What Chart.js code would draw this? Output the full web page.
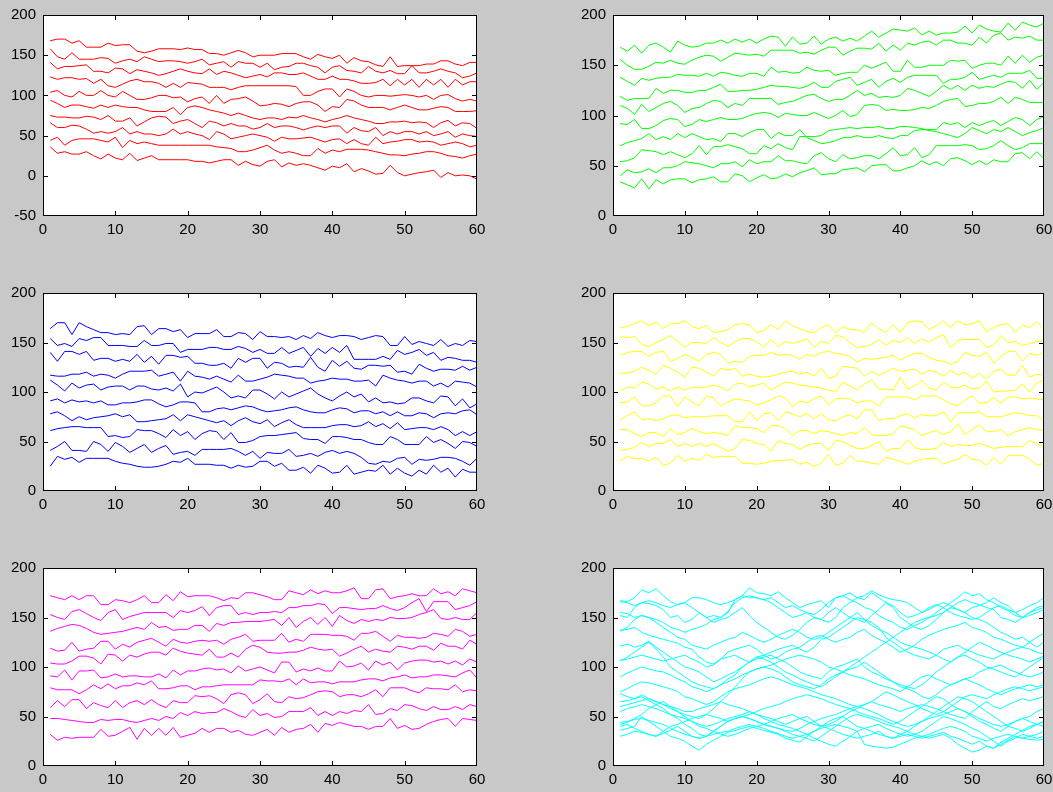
<!DOCTYPE html>
<html>
<head>
<meta charset="utf-8">
<script src="https://cdn.jsdelivr.net/npm/chart.js@4.4.1/dist/chart.umd.min.js"></script>
<style>
  html, body { margin: 0; padding: 0; background: #c8c8c8; }
  body { width: 1053px; height: 792px; position: relative; overflow: hidden; }
  canvas { position: absolute; }
</style>
</head>
<body>
<canvas id="p1"></canvas>
<canvas id="p2"></canvas>
<canvas id="p3"></canvas>
<canvas id="p4"></canvas>
<canvas id="p5"></canvas>
<canvas id="p6"></canvas>
<script>
// x positions (samples 1..60) and tick labels
const xValues = [1,2,3,4,5,6,7,8,9,10,11,12,13,14,15,16,17,18,19,20,21,22,23,24,25,26,27,28,29,30,
  31,32,33,34,35,36,37,38,39,40,41,42,43,44,45,46,47,48,49,50,51,52,53,54,55,56,57,58,59,60];
const xTicks = [0, 10, 20, 30, 40, 50, 60];
const yTicksRed = [-50, 0, 50, 100, 150, 200];
const yTicks = [0, 50, 100, 150, 200];

// panel 1 (red)
const redLines = [
  [168,170,170,165,168,160,160,160,165,162,163,163,155,153,155,158,158,158,157,159,157,157,152,152,150,153,156,153,148,150,150,150,152,152,152,148,145,151,148,146,150,140,147,143,142,138,136,148,136,137,137,137,139,139,143,143,139,137,141,141],
  [158,148,145,153,145,145,145,147,146,140,143,145,142,148,145,142,143,143,142,140,142,145,138,140,142,135,142,140,140,135,140,132,135,136,140,140,137,135,128,135,137,131,130,128,136,130,128,131,127,127,137,128,128,130,133,130,128,122,124,128],
  [141,133,136,136,137,138,130,130,128,134,133,127,132,130,128,125,127,130,133,130,128,127,133,126,130,128,125,122,124,126,123,128,128,126,126,128,124,120,120,124,120,120,118,115,115,116,120,112,120,113,120,110,120,113,120,110,120,113,117,117],
  [123,120,122,122,120,121,115,120,112,110,114,118,120,117,117,115,110,115,110,116,115,114,110,110,110,107,110,112,112,112,112,112,112,112,111,100,100,105,108,108,98,108,105,100,98,100,100,99,100,101,100,98,100,95,100,101,96,93,95,93],
  [104,106,100,98,105,100,100,106,100,98,105,100,95,95,97,100,100,97,98,92,96,98,90,100,90,95,96,98,93,87,88,90,89,86,90,92,92,88,80,86,85,95,93,88,85,85,85,82,85,88,85,82,82,84,86,85,80,80,80,81],
  [94,90,85,88,88,86,84,88,85,88,86,85,85,82,80,80,80,85,76,85,87,85,82,80,78,75,78,75,72,70,72,72,70,73,72,75,72,70,67,70,72,75,72,70,68,65,65,67,67,68,66,67,66,60,66,69,62,66,65,59],
  [75,73,73,72,72,74,73,70,75,68,68,72,62,67,72,74,73,65,68,70,65,60,68,66,62,65,62,62,58,60,65,60,62,62,60,57,60,62,60,62,62,53,60,56,55,60,50,55,52,55,55,52,55,50,52,55,48,52,50,49],
  [66,60,60,63,62,58,53,55,53,55,60,52,55,52,52,50,52,58,52,55,52,50,45,55,52,46,48,50,52,50,48,43,48,46,46,47,48,45,42,45,46,40,45,40,38,48,40,42,43,45,45,42,43,42,38,40,42,40,36,38],
  [44,48,38,44,46,46,46,44,42,48,35,44,40,42,40,38,38,38,38,38,38,38,38,36,35,34,30,30,32,35,38,32,28,30,28,25,25,34,28,32,30,33,33,33,32,30,28,26,26,25,27,28,30,30,28,25,24,22,25,27],
  [36,28,30,27,27,30,25,21,27,22,20,28,19,22,25,20,20,20,20,20,18,18,16,18,20,20,13,18,14,12,18,20,11,16,13,15,13,10,7,12,10,15,5,9,6,2,3,13,4,0,2,4,5,7,-2,4,0,1,0,-4]
];

// panel 2 (green)
const greenLines = [
  [168,164,170,162,170,172,168,163,174,170,168,169,172,172,175,172,176,173,176,172,176,179,178,169,178,171,172,179,171,176,178,174,177,174,179,184,178,182,186,185,184,187,180,184,180,182,182,183,189,182,190,186,184,183,192,185,193,190,188,192],
  [156,150,146,146,149,153,152,155,152,151,155,158,160,159,154,158,162,161,160,161,159,165,165,165,165,162,163,161,165,168,168,160,164,167,167,166,172,164,170,165,172,170,173,174,170,175,175,172,172,170,178,172,180,182,175,178,177,179,175,175],
  [138,134,130,137,135,137,138,138,141,140,140,139,142,139,143,142,140,139,142,142,139,148,143,144,142,143,148,145,144,145,140,142,143,143,150,147,150,153,144,144,155,148,148,150,150,150,155,154,155,147,150,152,152,150,159,152,160,153,158,160],
  [119,115,117,117,117,127,122,125,125,123,123,125,125,128,131,124,124,125,125,126,128,130,129,129,128,127,129,133,128,128,134,136,138,130,133,136,128,134,137,133,138,140,140,140,140,132,136,136,138,143,136,138,140,138,142,142,142,145,137,137],
  [110,107,101,111,104,108,112,114,110,103,107,108,112,115,114,108,112,110,117,117,117,117,111,113,114,117,120,121,117,114,116,116,120,125,120,122,118,119,118,120,127,125,122,119,124,130,126,130,125,130,127,129,128,131,134,133,127,135,126,133],
  [92,91,96,87,87,90,95,97,96,89,91,96,94,96,98,96,96,97,100,102,103,102,98,102,101,100,100,103,100,97,100,105,99,101,110,111,110,105,106,105,105,106,108,107,110,114,116,117,109,110,112,112,114,118,112,118,116,113,113,113],
  [70,73,75,77,82,76,79,76,82,78,82,79,76,77,74,82,82,79,83,86,86,77,83,80,80,86,78,75,72,73,75,78,78,80,78,78,80,78,77,80,80,85,86,86,86,93,91,93,88,93,90,93,95,90,94,98,96,90,96,99],
  [54,55,58,66,65,64,61,64,61,58,62,70,61,69,69,71,69,67,62,62,70,67,72,68,66,79,79,79,80,85,86,87,88,87,88,88,89,87,87,89,89,88,87,85,84,82,80,78,82,88,85,82,86,84,88,84,80,83,85,88],
  [40,46,43,44,47,43,48,48,50,54,53,52,50,48,52,52,54,49,56,52,54,54,60,55,55,53,52,60,63,57,54,61,57,58,60,60,57,62,68,60,61,68,58,61,70,70,70,70,71,70,66,67,70,75,70,66,68,72,72,72],
  [34,31,28,37,27,36,32,36,37,37,33,36,37,39,34,34,42,40,34,38,41,37,38,42,39,43,45,48,41,42,42,46,47,48,44,50,51,51,45,45,48,50,55,51,54,50,57,58,55,51,55,51,56,54,54,62,63,57,64,57]
];

// panel 3 (blue)
const blueLines = [
  [164,170,170,158,170,166,163,160,160,158,159,158,166,167,158,164,164,161,163,155,159,159,159,163,156,156,160,159,153,161,156,156,155,156,153,157,154,160,157,155,157,157,156,153,155,157,156,147,147,156,148,151,149,147,153,146,149,147,152,151],
  [154,147,149,146,154,152,155,155,147,147,147,146,146,152,147,147,149,149,140,143,143,143,145,145,143,143,146,144,140,143,139,139,145,139,142,145,136,144,139,145,140,147,133,133,133,133,136,133,142,138,140,143,137,140,132,135,134,132,132,130],
  [140,131,141,141,138,141,132,134,134,131,133,131,138,130,136,128,137,137,135,136,129,129,127,127,129,124,134,130,134,134,124,130,129,125,126,125,135,125,121,132,126,131,124,123,127,127,126,127,120,121,118,128,124,121,123,123,122,126,122,125],
  [117,116,116,118,118,120,116,118,117,114,118,121,121,121,122,116,118,120,111,121,116,115,113,116,113,110,117,111,111,113,115,118,117,116,114,114,109,111,112,114,113,113,111,111,112,106,117,114,112,111,109,111,111,106,109,105,111,110,109,105],
  [112,107,101,109,104,107,108,102,105,106,106,102,106,106,103,102,104,101,108,95,100,99,102,105,100,94,96,94,102,102,98,93,100,95,98,101,104,98,94,91,96,100,95,98,90,94,89,90,88,89,94,94,91,89,96,95,86,93,84,88],
  [91,93,89,92,90,91,89,91,87,87,89,89,90,92,92,88,85,87,90,90,89,80,80,83,84,82,84,86,85,82,80,81,82,84,85,82,80,79,79,82,84,83,79,81,81,78,80,76,80,76,76,79,78,74,78,79,78,81,82,77],
  [78,80,76,71,75,72,74,75,76,78,75,77,70,70,71,72,73,77,71,77,75,73,71,69,71,66,71,74,70,68,72,65,69,72,67,64,64,64,64,66,67,67,65,66,70,65,68,63,69,62,63,64,64,62,65,62,56,60,56,60],
  [61,63,64,65,65,64,64,64,55,56,54,55,62,61,61,58,54,62,56,60,52,58,61,60,52,59,49,49,51,55,56,56,57,58,59,53,52,52,48,55,55,54,52,52,49,47,47,55,52,47,47,47,55,49,52,48,43,50,49,45],
  [41,45,50,41,41,40,50,47,40,49,45,39,43,47,39,43,46,37,39,40,36,42,42,42,42,43,40,36,40,33,39,38,38,42,35,36,38,35,39,41,38,40,38,34,28,27,30,29,33,34,27,32,31,32,34,34,33,30,26,33],
  [25,35,32,34,29,33,33,33,33,30,28,27,25,24,24,25,27,30,29,33,27,27,27,26,26,23,26,24,25,30,30,25,28,21,21,24,18,26,23,18,19,26,17,19,21,20,26,17,23,18,15,21,17,26,19,23,14,22,19,19]
];

// panel 4 (yellow)
const yellowLines = [
  [165,166,169,172,167,171,164,169,169,172,166,164,167,160,161,163,168,169,168,160,162,168,163,172,167,164,161,160,165,168,160,166,163,163,160,170,164,160,168,160,170,172,171,163,167,172,165,172,168,169,172,161,165,168,169,160,168,165,171,163],
  [156,155,156,148,146,150,153,157,151,145,150,150,149,155,150,146,151,154,154,151,145,153,146,151,149,151,154,145,151,149,157,156,150,145,146,148,153,147,152,150,155,149,154,150,155,158,145,152,153,153,153,145,147,157,150,151,147,149,151,152],
  [137,140,141,141,136,140,141,131,134,138,135,131,138,140,138,129,131,130,136,137,137,140,137,138,137,133,138,136,140,141,139,138,136,130,134,133,134,135,137,132,136,139,139,135,132,131,128,131,140,137,136,140,129,136,141,141,131,139,137,140],
  [119,119,121,125,122,118,127,124,120,115,125,124,120,116,124,122,124,116,118,116,115,116,118,120,121,118,120,116,124,114,116,126,125,124,116,121,117,120,124,121,122,123,118,122,120,116,122,117,120,114,119,113,121,123,117,117,127,115,118,117],
  [101,105,104,110,108,103,105,101,105,102,105,104,105,107,105,101,108,109,105,107,109,102,106,110,109,107,106,105,104,102,100,110,106,102,108,112,103,103,102,115,103,106,112,104,102,110,105,104,107,103,104,111,100,101,101,102,108,100,109,112],
  [89,90,95,86,86,89,96,96,85,95,90,86,96,94,86,90,93,92,91,87,89,92,96,94,85,91,89,93,96,87,93,94,93,89,91,91,86,95,95,95,95,92,96,96,96,92,88,86,92,96,89,89,94,89,95,95,93,94,93,92],
  [72,76,80,72,73,71,73,76,77,74,75,75,75,76,76,76,70,70,80,71,78,79,71,80,78,75,78,73,78,72,71,75,77,73,82,82,71,73,73,76,78,74,77,76,76,80,70,79,79,79,80,75,75,75,77,79,78,76,76,71],
  [62,62,58,55,59,59,55,63,57,59,63,60,58,59,58,56,66,64,64,63,59,66,66,63,56,61,61,58,61,60,58,56,59,58,64,57,56,56,58,66,64,62,56,59,61,57,60,68,57,62,67,60,60,62,56,60,62,64,62,61],
  [41,42,44,49,45,48,48,52,45,48,45,48,45,48,44,40,43,52,51,48,47,40,51,48,47,42,46,48,48,41,51,50,46,43,43,46,50,40,43,43,52,44,42,42,43,49,45,47,46,46,48,46,43,44,45,45,45,51,48,44],
  [30,35,33,33,30,34,26,28,36,30,33,31,37,34,35,35,35,28,28,27,28,30,31,31,32,27,29,25,28,37,26,28,36,30,30,28,27,34,32,30,27,30,32,33,33,27,30,32,37,32,31,26,34,27,36,36,36,32,26,28]
];

// panel 5 (magenta)
const magentaLines = [
  [172,170,168,172,168,172,172,163,163,168,167,165,168,172,165,165,173,167,176,171,172,172,172,170,167,170,169,175,175,173,171,168,168,177,175,173,178,174,177,175,175,177,180,169,169,178,179,169,171,172,174,172,172,179,174,176,172,179,177,175],
  [153,150,148,156,158,154,150,147,155,158,148,151,153,155,155,155,155,150,157,155,157,161,152,160,162,162,153,155,153,155,155,156,155,160,160,162,162,164,163,154,160,160,159,158,159,159,162,159,157,160,165,169,156,166,166,166,158,160,162,166],
  [136,139,141,143,142,139,135,133,134,135,136,138,140,138,145,140,141,137,138,138,142,142,136,144,142,145,145,146,146,146,147,148,142,150,140,146,150,143,150,141,152,147,144,148,146,148,147,150,149,149,150,153,155,158,149,148,150,148,148,155],
  [119,116,117,125,116,118,119,126,126,118,123,120,125,127,129,125,121,128,125,124,126,127,126,127,123,128,130,133,126,127,127,127,134,125,128,126,133,133,133,132,132,131,127,134,134,136,131,126,132,130,130,129,130,134,133,131,138,136,131,133],
  [104,103,103,106,111,111,109,103,113,112,106,112,110,113,115,115,112,119,116,114,113,112,118,110,110,114,110,118,122,120,115,114,114,115,115,117,120,118,117,118,111,114,118,121,115,118,116,115,121,120,118,121,121,117,124,121,121,118,127,123],
  [91,90,97,87,96,96,97,89,90,93,90,91,91,90,90,93,89,97,92,96,96,98,99,97,98,94,101,96,98,100,97,94,105,105,95,98,96,99,96,96,106,100,101,104,97,106,102,105,97,104,106,107,107,105,106,103,106,102,108,105],
  [79,77,77,77,73,77,82,78,83,78,81,81,84,82,86,78,78,79,81,81,77,80,80,81,82,82,82,82,82,87,86,86,85,88,82,88,84,85,85,83,85,85,85,87,88,88,86,89,90,92,89,90,90,92,92,91,90,94,97,89],
  [59,66,60,67,67,58,64,61,59,66,59,64,66,62,67,62,59,66,64,64,71,70,71,68,63,72,74,72,63,67,73,65,64,70,68,69,72,75,76,75,70,72,72,70,73,77,70,79,79,79,76,74,79,78,78,77,82,75,77,76],
  [48,48,47,46,45,44,44,47,46,47,47,45,44,46,48,46,50,48,54,51,55,53,54,54,58,55,51,49,57,51,53,49,50,55,55,55,59,51,55,51,55,53,56,55,62,52,53,58,56,62,61,58,56,60,57,57,60,57,62,60],
  [32,26,29,28,29,29,29,37,30,31,35,39,27,38,31,38,31,39,29,31,33,38,34,38,38,34,36,32,31,34,37,31,39,34,37,38,42,34,43,41,44,42,40,40,37,40,40,48,38,41,37,38,42,45,47,48,40,48,47,46]
];

// panel 6 (cyan)
const cyanLines = [
  [167,166,170,178,175,179,172,166,163,165,160,155,150,152,150,156,165,170,172,170,168,170,165,160,162,158,155,153,158,165,170,172,168,165,160,158,152,148,145,140,138,142,145,150,155,160,165,170,176,172,174,168,165,160,157,152,150,155,158,160],
  [166,165,162,165,167,165,162,160,163,165,170,170,168,165,163,165,168,172,180,175,174,172,176,170,165,160,163,165,167,160,170,172,175,170,172,177,173,170,168,167,165,160,155,158,162,165,162,158,155,160,162,165,170,165,162,155,158,162,165,170],
  [155,154,150,152,150,148,145,140,138,135,138,140,143,148,150,155,168,172,170,170,168,165,160,155,150,152,155,150,148,145,150,160,165,170,168,175,170,165,162,155,150,152,155,160,163,160,155,152,150,148,150,155,160,162,158,155,150,152,155,158],
  [152,150,160,165,164,162,158,150,152,145,148,155,150,145,148,150,155,160,152,145,140,135,130,128,132,138,145,150,148,155,160,155,150,148,145,152,158,165,160,150,145,140,138,142,148,155,160,165,168,165,163,160,158,150,148,145,150,155,160,162],
  [137,138,140,135,132,130,128,126,124,120,118,110,105,103,108,115,118,120,122,118,112,108,110,115,118,120,125,130,132,128,125,128,130,135,138,132,128,125,120,115,118,122,128,132,135,138,140,142,145,140,138,135,130,128,125,122,120,125,130,134],
  [136,140,148,152,150,145,140,135,130,128,122,120,118,122,125,128,130,135,132,128,125,128,132,135,138,135,130,128,130,135,140,145,150,155,148,142,138,135,130,125,122,120,118,115,112,108,105,110,115,120,125,122,118,115,112,110,108,105,108,111],
  [121,123,120,122,126,120,115,110,105,100,98,95,90,85,88,92,95,100,105,110,108,105,100,95,92,88,85,82,80,85,90,95,100,105,110,115,120,125,130,135,140,145,148,150,152,155,160,158,155,150,148,145,140,135,132,128,130,125,120,125],
  [107,108,110,112,110,108,106,108,110,112,108,105,100,102,108,110,112,108,105,110,112,115,118,120,122,118,115,120,128,130,135,140,145,150,148,145,140,130,125,120,115,112,110,108,112,118,120,122,118,115,112,110,108,112,115,118,120,118,115,113],
  [106,110,115,120,125,118,110,100,95,90,85,82,80,78,82,88,92,100,105,108,110,112,108,105,100,95,92,90,88,95,100,102,105,108,100,95,92,88,85,82,80,78,82,88,95,100,105,110,112,108,105,100,98,95,92,90,95,100,105,110],
  [90,94,97,100,98,96,95,92,88,85,80,78,75,78,82,85,88,92,95,98,100,102,105,108,110,112,110,108,105,100,98,95,92,90,88,85,82,80,78,75,80,85,90,92,88,85,82,85,88,90,95,98,100,102,98,95,92,90,92,95],
  [75,78,82,85,84,82,80,78,75,70,68,65,62,65,70,75,78,80,82,85,88,90,88,85,82,80,78,75,72,70,68,65,62,60,62,65,70,75,72,68,65,62,58,55,52,55,60,65,70,72,70,68,72,75,78,80,78,76,78,80],
  [73,70,68,72,68,65,62,58,55,52,50,48,52,58,65,72,80,88,95,98,100,98,95,90,85,82,80,78,82,88,92,95,98,100,105,100,95,90,85,80,78,75,70,68,72,78,82,85,88,85,82,78,75,72,75,78,80,82,80,82],
  [65,66,68,70,66,62,58,52,48,42,38,32,30,35,40,45,48,50,52,55,58,60,62,65,68,70,72,70,68,65,62,60,58,55,52,50,48,45,42,45,50,55,60,65,70,68,62,58,55,52,48,45,42,40,42,45,48,50,55,58],
  [60,62,64,66,68,65,62,60,58,55,55,58,60,62,65,62,60,58,55,52,50,48,45,42,45,48,50,45,40,42,45,50,55,58,62,65,62,60,58,55,58,60,62,60,58,55,52,50,48,55,60,65,60,58,62,65,68,66,68,70],
  [44,45,47,48,46,44,42,38,35,32,30,28,30,35,40,45,48,50,48,45,42,40,38,36,35,38,42,45,48,50,52,55,58,60,58,55,52,48,45,42,40,42,45,48,50,52,55,58,55,50,45,42,38,35,40,45,48,45,42,45],
  [42,44,48,52,58,62,65,60,55,50,45,40,38,35,32,30,32,35,38,40,42,45,48,50,52,48,45,42,40,38,35,32,30,28,30,32,35,30,28,32,35,40,45,50,55,60,65,70,68,65,60,55,50,45,40,38,35,38,42,40],
  [36,38,40,50,45,40,35,30,28,25,20,16,22,26,30,34,36,38,40,38,36,34,32,28,26,24,30,35,40,45,48,50,45,40,38,35,32,30,28,30,32,30,28,30,32,34,30,28,25,22,25,20,18,24,28,32,36,40,42,45],
  [30,32,35,34,32,30,33,36,40,35,30,28,30,32,34,35,38,40,42,40,38,35,33,30,28,30,32,35,38,40,42,40,38,35,22,20,19,18,19,22,25,28,30,32,35,38,40,38,35,30,28,25,28,30,32,30,28,27,26,27],
  [40,42,38,35,32,30,35,40,42,45,48,50,52,50,48,45,48,50,48,45,42,40,38,35,32,30,28,25,30,35,40,45,50,52,50,48,45,42,40,38,35,32,30,28,30,32,28,22,18,14,16,20,18,22,26,30,28,30,32,35],
  [55,58,60,62,60,58,55,52,50,48,45,42,40,42,45,48,50,52,55,52,48,45,42,40,38,35,32,28,25,22,20,25,30,35,38,40,42,38,35,32,30,32,35,40,45,50,48,45,42,38,35,30,25,20,25,28,32,30,28,30]
];

// axes boxes in page pixels
const panels = [
  { id: 'p1', left: 43,  top: 15,  right: 477,  bottom: 216, color: '#ff0000', lines: redLines,     yTicks: yTicksRed },
  { id: 'p2', left: 613, top: 15,  right: 1044, bottom: 216, color: '#00ff00', lines: greenLines,   yTicks: yTicks },
  { id: 'p3', left: 43,  top: 293, right: 477,  bottom: 491, color: '#0000ff', lines: blueLines,    yTicks: yTicks },
  { id: 'p4', left: 613, top: 293, right: 1044, bottom: 491, color: '#ffff00', lines: yellowLines,  yTicks: yTicks },
  { id: 'p5', left: 43,  top: 568, right: 477,  bottom: 766, color: '#ff00ff', lines: magentaLines, yTicks: yTicks },
  { id: 'p6', left: 613, top: 568, right: 1044, bottom: 766, color: '#00ffff', lines: cyanLines,    yTicks: yTicks }
];

const PAD_L = 43, PAD_T = 15, PAD_R = 9, PAD_B = 26;
const FONT = { family: "'Liberation Sans', Arial, sans-serif", size: 15 };

// white plot area, then black box with inward ticks on all four sides (matlab look)
const boxPlugin = {
  id: 'box',
  beforeDatasetsDraw(chart) {
    const a = chart.chartArea, ctx = chart.ctx;
    ctx.save();
    ctx.fillStyle = '#ffffff';
    ctx.fillRect(a.left, a.top, a.right - a.left, a.bottom - a.top);
    ctx.restore();
  },
  afterDraw(chart) {
    const a = chart.chartArea, ctx = chart.ctx;
    const xs = chart.scales.x, ys = chart.scales.y;
    const L = Math.round(a.left), R = Math.round(a.right) - 1;
    const T = Math.round(a.top), B = Math.round(a.bottom) - 1;
    const len = 5;
    ctx.save();
    ctx.globalAlpha = 1;
    ctx.globalCompositeOperation = 'source-over';
    ctx.fillStyle = '#000000';
    // frame
    ctx.fillRect(L, T, R - L + 1, 1);
    ctx.fillRect(L, B, R - L + 1, 1);
    ctx.fillRect(L, T, 1, B - T + 1);
    ctx.fillRect(R, T, 1, B - T + 1);
    // ticks pointing inward
    xs.ticks.forEach(t => {
      const px = Math.min(R, Math.round(xs.getPixelForValue(t.value)));
      ctx.fillRect(px, B - len + 1, 1, len);
      ctx.fillRect(px, T, 1, len);
    });
    ys.ticks.forEach(t => {
      const py = Math.min(B, Math.round(ys.getPixelForValue(t.value)));
      ctx.fillRect(L, py, len, 1);
      ctx.fillRect(R - len + 1, py, len, 1);
    });
    ctx.restore();
  }
};

panels.forEach(p => {
  const cv = document.getElementById(p.id);
  const w = p.right - p.left + PAD_L + PAD_R;
  const h = p.bottom - p.top + PAD_T + PAD_B;
  cv.width = w; cv.height = h;
  cv.style.left = (p.left - PAD_L) + 'px';
  cv.style.top = (p.top - PAD_T) + 'px';
  cv.style.width = w + 'px';
  cv.style.height = h + 'px';

  const yt = p.yTicks;
  new Chart(cv.getContext('2d'), {
    type: 'line',
    data: {
      datasets: p.lines.map(vals => ({
        data: vals.map((v, i) => ({ x: xValues[i], y: v })),
        borderColor: p.color,
        borderWidth: 1,
        pointRadius: 0,
        tension: 0,
        fill: false
      }))
    },
    options: {
      responsive: false,
      animation: false,
      devicePixelRatio: 1,
      layout: { padding: { left: 0, top: PAD_T, right: PAD_R, bottom: 0 } },
      plugins: { legend: { display: false }, tooltip: { enabled: false } },
      scales: {
        x: {
          type: 'linear',
          min: xTicks[0], max: xTicks[xTicks.length - 1],
          afterBuildTicks: s => { s.ticks = xTicks.map(v => ({ value: v })); },
          afterFit: s => { s.height = PAD_B; s.paddingLeft = 0; s.paddingRight = 0; },
          grid: { display: false, drawTicks: false },
          border: { display: false },
          ticks: { color: '#000', font: FONT, padding: 5, maxRotation: 0, autoSkip: false }
        },
        y: {
          min: yt[0], max: yt[yt.length - 1],
          afterBuildTicks: s => { s.ticks = yt.map(v => ({ value: v })); },
          afterFit: s => { s.width = PAD_L; s.paddingTop = 0; s.paddingBottom = 0; },
          grid: { display: false, drawTicks: false },
          border: { display: false },
          ticks: { color: '#000', font: FONT, padding: 7, autoSkip: false }
        }
      }
    },
    plugins: [boxPlugin]
  });
});
</script>
</body>
</html>
